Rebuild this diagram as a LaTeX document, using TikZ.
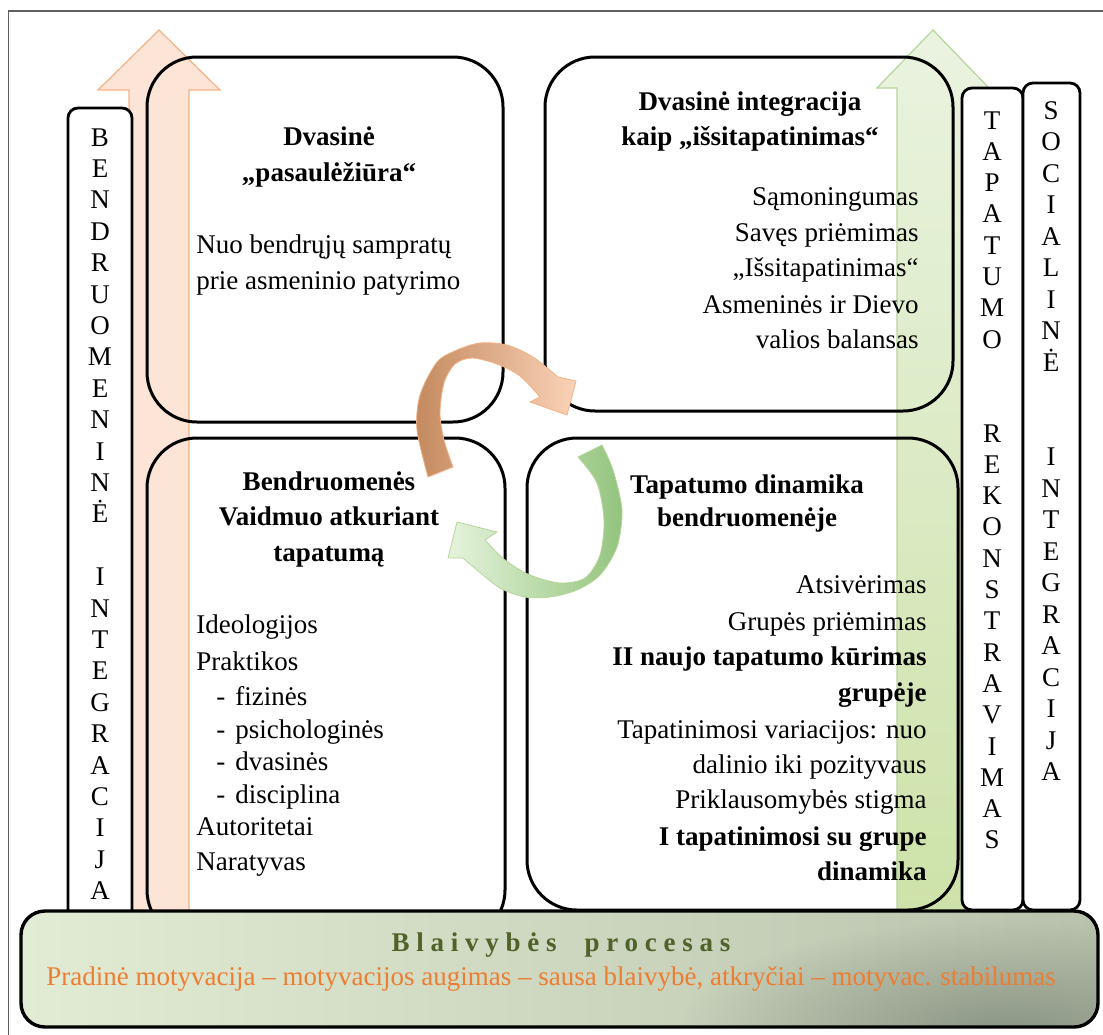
\documentclass[tikz,border=0pt]{standalone}
\usepackage{fontspec}
\setmainfont{Liberation Serif}
\newfontfamily\spacedfont[LetterSpace=25]{Liberation Serif}
\usetikzlibrary{fadings}
\definecolor{framegray}{HTML}{606060}
\definecolor{peach}{HTML}{FCE4D6}
\definecolor{peachline}{HTML}{F4B183}
\definecolor{greentop}{HTML}{EAF3E0}
\definecolor{greenbot}{HTML}{CDE2A9}
\definecolor{greenline}{HTML}{B5D69A}
\definecolor{orgdark}{HTML}{C48A5F}
\definecolor{orglight}{HTML}{FAD3B8}
\definecolor{grnlight}{HTML}{E6F3DC}
\definecolor{grndark}{HTML}{93C47D}
\definecolor{boxleft}{HTML}{E2EBD3}
\definecolor{boxright}{HTML}{B9C2AC}
\definecolor{boxdark}{HTML}{8C9685}
\definecolor{titlegreen}{HTML}{4F6228}
\definecolor{suborange}{HTML}{ED7D31}
\tikzfading[name=radfade, inner color=transparent!0, outer color=transparent!100]
\begin{document}
\begin{tikzpicture}[x=0.5pt,y=-0.5pt,
  bigbox/.style={line width=1.5pt, rounded corners=25pt},
  vbox/.style={line width=1.4pt, rounded corners=5pt, fill=white},
  txt/.style={font=\fontsize{13.5}{18}\selectfont, inner sep=0pt, anchor=base},
  btxt/.style={txt, font=\fontsize{13.5}{18}\selectfont\bfseries},
  ltxt/.style={txt, anchor=base west},
  rtxt/.style={txt, anchor=base east},
  rbtxt/.style={btxt, anchor=base east},
  vl/.style={txt}]
\useasboundingbox (0,0) rectangle (1103,1034);
% outer frame
\draw[framegray, line width=0.7pt] (8.5,11) rectangle (1112,1045);
% vertical arrows
\fill[peach, draw=peachline, line width=0.6pt] (129,915) -- (129,90) -- (98,90) -- (159,30) -- (220,90) -- (189,90) -- (189,915) -- cycle;
\shade[top color=greentop, bottom color=greenbot, draw=greenline, line width=0.6pt] (897,915) -- (897,88) -- (877,88) -- (933,30) -- (989,88) -- (969,88) -- (969,915) -- cycle;
% vertical label boxes
\draw[vbox] (68,108) rectangle (132,940);
\draw[vbox] (962,88) rectangle (1023,910);
\draw[vbox] (1023,83) rectangle (1080,910);
% big boxes
\draw[bigbox] (147,57) rectangle (503,422);
\draw[bigbox] (545,57) rectangle (953,411);
\draw[bigbox] (147,438) rectangle (505,940);
\draw[bigbox] (527,438) rectangle (958,910);
% vertical letters
\foreach \l [count=\i from 0] in {B,E,N,D,R,U,O,M,E,N,I,N,Ė}
  \node[vl] (lb\i) at (100,{146+\i*31.4}) {\l};
\foreach \l [count=\i from 14] in {I,N,T,E,G,R,A,C,I,J,A}
  \node[vl] (lb\i) at (100,{146+\i*31.4}) {\l};
\foreach \l [count=\i from 0] in {T,A,P,A,T,U,M,O}
  \node[vl] (lt\i) at (992,{129+\i*31.3}) {\l};
\foreach \l [count=\i from 10] in {R,E,K,O,N,S,T,R,A,V,I,M,A,S}
  \node[vl] (lt\i) at (992,{129+\i*31.3}) {\l};
\foreach \l [count=\i from 0] in {S,O,C,I,A,L,I,N,Ė}
  \node[vl] (ls\i) at (1051,{119+\i*31.5}) {\l};
\foreach \l [count=\i from 11] in {I,N,T,E,G,R,A,C,I,J,A}
  \node[vl] (ls\i) at (1051,{119+\i*31.5}) {\l};
% top-left text
\node[btxt] (tl1) at (329,145) {Dvasinė};
\node[btxt] (tl2) at (329,181) {„pasaulėžiūra“};
\node[ltxt] (tl3) at (196,253) {Nuo bendrųjų sampratų};
\node[ltxt] (tl4) at (196,289) {prie asmeninio patyrimo};
% top-right text
\node[btxt] (tr1) at (750,110) {Dvasinė integracija};
\node[btxt] (tr2) at (750,145) {kaip „išsitapatinimas“};
\node[rtxt] (tr3) at (919,205) {Sąmoningumas};
\node[rtxt] (tr4) at (919,241) {Savęs priėmimas};
\node[rtxt] (tr5) at (919,276) {„Išsitapatinimas“};
\node[rtxt] (tr6) at (919,313) {Asmeninės ir Dievo};
\node[rtxt] (tr7) at (919,348) {valios balansas};
% bottom-left text
\node[btxt] (bl1) at (329,490) {Bendruomenės};
\node[btxt] (bl2) at (329,525) {Vaidmuo atkuriant};
\node[btxt] (bl3) at (329,561) {tapatumą};
\node[ltxt] (bl4) at (196,633) {Ideologijos};
\node[ltxt] (bl5) at (196,670) {Praktikos};
\node[ltxt] (bl6) at (216,705) {-\hspace{5pt}fizinės};
\node[ltxt] (bl7) at (216,738) {-\hspace{5pt}psichologinės};
\node[ltxt] (bl8) at (216,770) {-\hspace{5pt}dvasinės};
\node[ltxt] (bl9) at (216,803) {-\hspace{5pt}disciplina};
\node[ltxt] (bl10) at (196,835) {Autoritetai};
\node[ltxt] (bl11) at (196,870) {Naratyvas};
% bottom-right text
\node[btxt] (br1) at (747,493) {Tapatumo dinamika};
\node[btxt] (br2) at (747,526) {bendruomenėje};
\node[rtxt] (br3) at (927,593) {Atsivėrimas};
\node[rtxt] (br4) at (927,630) {Grupės priėmimas};
\node[rbtxt] (br5) at (927,665) {II naujo tapatumo kūrimas};
\node[rbtxt] (br6) at (927,701) {grupėje};
\node[rtxt] (br7) at (927,738) {Tapatinimosi variacijos: nuo};
\node[rtxt] (br8) at (927,773) {dalinio iki pozityvaus};
\node[rtxt] (br9) at (927,808) {Priklausomybės stigma};
\node[rbtxt] (br10) at (927,845) {I tapatinimosi su grupe};
\node[rbtxt] (br11) at (927,880) {dinamika};
% curved orange arrow
\shade[left color=orgdark, right color=orglight, draw=peachline, line width=0.4pt]
  (453,467) -- (428,477) -- plot[smooth] coordinates {(428,477) (417,430) (420,395) (437,362) (457,350) (480,343) (507,345) (533,357) (558,377)}
  -- (576,381) -- (567,415) -- (530,402) -- (540,397)
  -- plot[smooth] coordinates {(540,397) (520,376) (497,364) (472,358) (455,364) (444,383) (440,413) (444,440) (453,467)} -- cycle;
% curved green arrow
\shade[left color=grnlight, right color=grndark, draw=greenline, line width=0.4pt]
  (578,457) -- (602,445) -- plot[smooth] coordinates {(602,445) (613,470) (622,510) (617,547) (600,575) (577,590) (550,597) (525,597) (500,588) (477,570) (463,558)}
  -- (448,558) -- (457,522) -- (497,532) -- (485,540)
  -- plot[smooth] coordinates {(485,540) (505,560) (530,575) (560,583) (585,578) (600,555) (604,520) (597,483) (578,457)} -- cycle;
% bottom process box
\begin{scope}
  \clip[rounded corners=12pt] (21,911) rectangle (1098,1027);
  \shade[left color=boxleft, right color=boxright] (21,911) rectangle (1098,1027);
  \fill[boxdark, path fading=radfade] (1010,1030) ellipse (330 and 110);
\end{scope}
\draw[line width=1.7pt, rounded corners=12pt] (21,911) rectangle (1098,1027);
\node[txt, font=\fontsize{13.5}{16}\spacedfont\bfseries, text=titlegreen] (bp1) at (561,951) {Blaivybės\hspace{14pt}procesas};
\node[txt, font=\fontsize{13.5}{16}\selectfont, text=suborange] (bp2) at (551,985) {Pradinė motyvacija – motyvacijos augimas – sausa blaivybė, atkryčiai – motyvac. stabilumas};
\end{tikzpicture}
\end{document}
